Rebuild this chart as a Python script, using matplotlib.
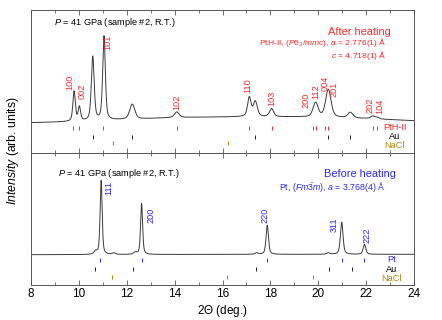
import numpy as np
import matplotlib
matplotlib.use('Agg')
import matplotlib.pyplot as plt
from matplotlib.ticker import MultipleLocator

plt.rcParams['font.family'] = ['Liberation Sans', 'DejaVu Sans']
plt.rcParams['mathtext.fontset'] = 'custom'
plt.rcParams['mathtext.rm'] = 'Liberation Sans'
plt.rcParams['mathtext.it'] = 'Liberation Sans:italic'

RED = '#ff2a2a'
BLUE = '#2a2aff'
GOLD = '#b8860b'
LINE = '#3a3a3a'

# ---- after heating (top panel) ----
bg_after_x = [8, 10, 12, 14, 17, 20, 22, 24]
bg_after_y = [30.3, 31.5, 33.5, 35.5, 36.3, 36.0, 34.5, 32.3]
pk_after_pos = [9.80, 10.02, 10.58, 11.05, 12.23, 14.09, 17.12, 17.37, 18.05, 19.83, 19.92, 20.40, 20.47, 21.34, 22.27, 22.45]
pk_after_h = [30, 14, 64, 84, 15, 5.5, 19, 15, 8, 6, 10, 20, 9, 5.5, 2.5, 1.5]
pk_after_w = [0.12, 0.12, 0.14, 0.13, 0.25, 0.22, 0.17, 0.20, 0.20, 0.2, 0.22, 0.25, 0.25, 0.25, 0.2, 0.2]

after_hkl = ['100', '002', '101', '102', '110', '103', '200', '112', '004', '201', '202', '104']
after_hkl_x = [9.63, 10.13, 11.23, 14.09, 17.05, 18.05, 19.49, 19.88, 20.29, 20.67, 22.17, 22.59]
after_hkl_y = [63, 54, 103, 43, 60, 47, 45, 54, 62, 56, 40, 39]

pth_ticks = [9.75, 10.02, 11.02, 14.09, 17.12, 18.05, 19.80, 19.90, 20.30, 20.42, 22.27, 22.45]
au_ticks_after = [10.58, 12.23, 17.37, 20.40, 21.34]
nacl_ticks_after = [11.44, 16.21]

# ---- before heating (bottom panel) ----
bg_before_x = [8, 16, 24]
bg_before_y = [30.3, 30.6, 30.7]
pk_before_pos = [10.70, 10.93, 11.45, 12.35, 12.62, 17.42, 17.87, 20.42, 20.98, 21.93]
pk_before_h = [3.0, 74, 1.5, 2.0, 51, 1.5, 29, 1.5, 32, 10]
pk_before_w = [0.15, 0.10, 0.15, 0.15, 0.10, 0.15, 0.12, 0.15, 0.13, 0.13]

before_hkl = ['111', '200', '220', '311', '222']
before_hkl_x = [11.27, 13.01, 17.79, 20.67, 22.02]
before_hkl_y = [90.0, 62.3, 62.3, 53, 42.3]

pt_ticks = [10.90, 12.62, 17.87, 20.98, 21.93]
au_ticks_before = [10.66, 12.27, 17.38, 20.43, 21.40]
nacl_ticks_before = [11.40, 16.20, 19.77]


def profile(x, bgx, bgy, pos, h, w):
    y = np.interp(x, bgx, bgy)
    for c, a, f in zip(pos, h, w):
        g = np.exp(-4 * np.log(2) * ((x - c) / f) ** 2)
        l = 1 / (1 + ((x - c) / (f / 2)) ** 2)
        y = y + a * (0.5 * g + 0.5 * l)
    return y


x = np.linspace(8, 24, 4000)

fig = plt.figure(figsize=(4.42, 3.2), dpi=100)
ax1 = fig.add_axes([31 / 442, 1 - 153 / 320, 383 / 442, 143 / 320])
ax2 = fig.add_axes([31 / 442, 1 - 285 / 320, 383 / 442, 132 / 320])

for ax in (ax1, ax2):
    ax.set_xlim(8, 24)
    ax.xaxis.set_major_locator(MultipleLocator(2))
    ax.xaxis.set_minor_locator(MultipleLocator(1))
    ax.tick_params(axis='x', which='both', direction='in', top=True, labelsize=8.5,
                   color='#555555', width=0.6, pad=2.5)
    ax.tick_params(axis='x', which='major', length=3.5)
    ax.tick_params(axis='x', which='minor', length=2)
    ax.set_yticks([])
    for s in ax.spines.values():
        s.set_color('#555555')
        s.set_linewidth(0.7)

ax1.tick_params(axis='x', labelbottom=False)
ax1.set_ylim(0, 143)
ax2.set_ylim(0, 132)

# top panel
ax1.plot(x, profile(x, bg_after_x, bg_after_y, pk_after_pos, pk_after_h, pk_after_w), color=LINE, lw=0.7)
for lab, lx, ly in zip(after_hkl, after_hkl_x, after_hkl_y):
    ax1.text(lx, ly, lab, rotation=90, ha='center', va='bottom', color=RED, fontsize=6.6)
ax1.plot(pth_ticks, [25.3] * len(pth_ticks), '|', color=RED, ms=3.5, mew=0.7)
ax1.plot(au_ticks_after, [16.3] * len(au_ticks_after), '|', color='#222222', ms=3.5, mew=0.7)
ax1.plot(nacl_ticks_after, [9.7] * len(nacl_ticks_after), '|', color=GOLD, ms=3.5, mew=0.8)
ax1.text(23.2, 25.3, 'PtH-II', color=RED, fontsize=6.6, ha='center', va='center')
ax1.text(23.2, 16.3, 'Au', color='black', fontsize=6.6, ha='center', va='center')
ax1.text(23.2, 7.8, 'NaCl', color=GOLD, fontsize=6.6, ha='center', va='center')
ax1.text(8.96, 130.3, r'$\mathit{P}$ = 41 GPa (sample #2, R.T.)', fontsize=6.6, ha='left', va='center')
ax1.text(23.04, 121.3, 'After heating', color=RED, fontsize=7.9, ha='right', va='center')
ax1.text(22.87, 110.8, r'PtH-II, ($\mathit{P}$6$_3$/$\mathit{mmc}$), $\mathit{a}$ = 2.776(1) Å',
         color=RED, fontsize=6.1, ha='right', va='center')
ax1.text(22.87, 97.8, r'$\mathit{c}$ = 4.718(1) Å', color=RED, fontsize=6.1, ha='right', va='center')

# bottom panel
ax2.plot(x, profile(x, bg_before_x, bg_before_y, pk_before_pos, pk_before_h, pk_before_w), color=LINE, lw=0.7)
for lab, lx, ly in zip(before_hkl, before_hkl_x, before_hkl_y):
    ax2.text(lx, ly, lab, rotation=90, ha='center', va='bottom', color=BLUE, fontsize=6.6)
ax2.plot(pt_ticks, [25.3] * len(pt_ticks), '|', color=BLUE, ms=3.5, mew=0.7)
ax2.plot(au_ticks_before, [16] * len(au_ticks_before), '|', color='#222222', ms=3.5, mew=0.7)
ax2.plot(nacl_ticks_before, [8.3] * len(nacl_ticks_before), '|', color=GOLD, ms=3.5, mew=0.8)
ax2.text(23.08, 25.3, 'Pt', color=BLUE, fontsize=6.6, ha='center', va='center')
ax2.text(23.08, 16, 'Au', color='black', fontsize=6.6, ha='center', va='center')
ax2.text(23.08, 6.8, 'NaCl', color=GOLD, fontsize=6.6, ha='center', va='center')
ax2.text(9.12, 111, r'$\mathit{P}$ = 41 GPa (sample #2, R.T.)', fontsize=6.6, ha='left', va='center')
ax2.text(23.25, 110.7, 'Before heating', color=BLUE, fontsize=7.9, ha='right', va='center')
ax2.text(22.79, 98.3, r'Pt, ($\mathit{Fm}\bar{3}\mathit{m}$), $\mathit{a}$ = 3.768(4) Å',
         color=BLUE, fontsize=6.3, ha='right', va='center')

ax2.set_xlabel(r'2$\mathit{\Theta}$ (deg.)', fontsize=8.5, labelpad=1.5)
fig.text(13 / 442, 1 - 151 / 320, r'$\mathit{Intensity}$ (arb. units)', rotation=90,
         ha='center', va='center', fontsize=8.8)

fig.savefig('out.png', dpi=100)
